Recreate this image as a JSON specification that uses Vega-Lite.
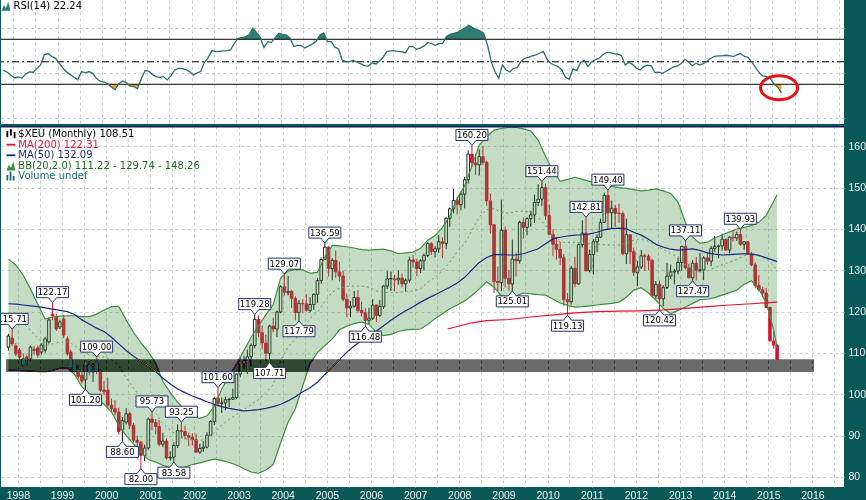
{
"$schema":"https://vega.github.io/schema/vega-lite/v6.json",
"background":"#0b5858",
"padding":0,
"spacing":0,
"config":{"view":{"stroke":null,"fill":"white"},"font":"DejaVu Sans",
"axis":{"gridColor":"#cfcfcf","gridDash":[3,3],"gridWidth":1,"domain":false,"ticks":false,"labelColor":"#f2f2f2","labelFont":"Liberation Sans","labelFontSize":10.5,"title":null}},
"datasets":{
"candles":[
{"d":"1997-10-15","o":111.4,"h":114.6,"l":110.6,"c":114.1},
{"d":"1997-11-15","o":113.6,"h":115.71,"l":111.6,"c":112.2},
{"d":"1997-12-15","o":111.7,"h":112.4,"l":109.2,"c":109.8},
{"d":"1998-01-15","o":110.7,"h":111.2,"l":107.6,"c":109.0},
{"d":"1998-02-15","o":108.6,"h":109.9,"l":106.6,"c":107.2},
{"d":"1998-03-15","o":109.0,"h":109.6,"l":107.0,"c":108.3},
{"d":"1998-04-15","o":108.6,"h":111.8,"l":108.2,"c":111.4},
{"d":"1998-05-15","o":110.9,"h":111.7,"l":109.6,"c":110.6},
{"d":"1998-06-15","o":111.2,"h":111.8,"l":108.8,"c":109.5},
{"d":"1998-07-15","o":110.2,"h":112.3,"l":109.6,"c":111.9},
{"d":"1998-08-15","o":110.7,"h":113.9,"l":110.1,"c":113.4},
{"d":"1998-09-15","o":112.7,"h":118.6,"l":112.2,"c":118.0},
{"d":"1998-10-15","o":119.4,"h":122.17,"l":117.9,"c":119.0},
{"d":"1998-11-15","o":118.7,"h":119.5,"l":115.3,"c":115.8},
{"d":"1998-12-15","o":116.3,"h":118.0,"l":115.8,"c":117.5},
{"d":"1999-01-15","o":118.2,"h":119.2,"l":113.6,"c":114.3},
{"d":"1999-02-15","o":113.4,"h":114.0,"l":109.4,"c":109.8},
{"d":"1999-03-15","o":110.2,"h":110.8,"l":105.9,"c":106.6},
{"d":"1999-04-15","o":107.4,"h":108.3,"l":105.2,"c":105.6},
{"d":"1999-05-15","o":105.9,"h":107.0,"l":103.7,"c":104.3},
{"d":"1999-06-15","o":104.6,"h":105.4,"l":102.6,"c":103.2},
{"d":"1999-07-15","o":103.5,"h":108.0,"l":101.2,"c":107.2},
{"d":"1999-08-15","o":107.0,"h":107.9,"l":104.6,"c":105.4},
{"d":"1999-09-15","o":105.4,"h":107.5,"l":103.0,"c":106.9},
{"d":"1999-10-15","o":107.5,"h":109.0,"l":104.9,"c":105.6},
{"d":"1999-11-15","o":105.6,"h":106.0,"l":100.5,"c":101.0},
{"d":"1999-12-15","o":101.0,"h":103.2,"l":99.8,"c":100.6},
{"d":"2000-01-15","o":101.0,"h":104.0,"l":96.8,"c":97.4},
{"d":"2000-02-15","o":97.4,"h":99.0,"l":95.8,"c":96.5},
{"d":"2000-03-15","o":96.5,"h":98.6,"l":94.9,"c":95.7},
{"d":"2000-04-15","o":95.7,"h":96.8,"l":90.3,"c":91.0},
{"d":"2000-05-15","o":91.4,"h":94.5,"l":88.6,"c":93.6},
{"d":"2000-06-15","o":93.3,"h":96.6,"l":92.7,"c":95.3},
{"d":"2000-07-15","o":95.3,"h":95.8,"l":91.6,"c":92.5},
{"d":"2000-08-15","o":92.5,"h":93.0,"l":88.4,"c":88.9},
{"d":"2000-09-15","o":88.9,"h":90.0,"l":84.4,"c":88.4},
{"d":"2000-10-15","o":88.4,"h":88.7,"l":82.0,"c":85.2},
{"d":"2000-11-15","o":85.2,"h":87.8,"l":83.8,"c":87.0},
{"d":"2000-12-15","o":87.0,"h":94.4,"l":86.6,"c":94.0},
{"d":"2001-01-15","o":94.0,"h":95.73,"l":91.2,"c":93.2},
{"d":"2001-02-15","o":93.2,"h":94.0,"l":90.3,"c":92.2},
{"d":"2001-03-15","o":92.2,"h":93.8,"l":87.4,"c":87.9},
{"d":"2001-04-15","o":87.9,"h":90.7,"l":87.3,"c":88.7},
{"d":"2001-05-15","o":88.7,"h":89.3,"l":84.2,"c":84.6},
{"d":"2001-06-15","o":84.6,"h":86.2,"l":83.9,"c":84.8},
{"d":"2001-07-15","o":84.8,"h":88.4,"l":83.58,"c":87.6},
{"d":"2001-08-15","o":87.6,"h":92.7,"l":87.0,"c":91.2},
{"d":"2001-09-15","o":91.2,"h":93.25,"l":89.3,"c":91.0},
{"d":"2001-10-15","o":91.0,"h":92.4,"l":89.1,"c":90.0},
{"d":"2001-11-15","o":90.0,"h":90.7,"l":87.4,"c":89.6},
{"d":"2001-12-15","o":89.6,"h":90.6,"l":87.6,"c":89.0},
{"d":"2002-01-15","o":89.0,"h":90.5,"l":85.9,"c":86.0},
{"d":"2002-02-15","o":86.0,"h":88.0,"l":85.6,"c":86.9},
{"d":"2002-03-15","o":86.9,"h":88.7,"l":86.1,"c":87.2},
{"d":"2002-04-15","o":87.2,"h":90.8,"l":86.9,"c":90.1},
{"d":"2002-05-15","o":90.1,"h":93.7,"l":89.9,"c":93.4},
{"d":"2002-06-15","o":93.4,"h":99.4,"l":92.6,"c":99.0},
{"d":"2002-07-15","o":99.0,"h":101.6,"l":97.0,"c":97.8},
{"d":"2002-08-15","o":97.8,"h":99.2,"l":95.5,"c":97.9},
{"d":"2002-09-15","o":97.9,"h":99.4,"l":96.2,"c":98.7},
{"d":"2002-10-15","o":98.7,"h":99.2,"l":96.9,"c":98.8},
{"d":"2002-11-15","o":98.8,"h":101.4,"l":98.7,"c":99.2},
{"d":"2002-12-15","o":99.2,"h":105.0,"l":98.8,"c":104.9},
{"d":"2003-01-15","o":104.9,"h":108.8,"l":104.1,"c":107.7},
{"d":"2003-02-15","o":107.7,"h":109.3,"l":106.3,"c":107.9},
{"d":"2003-03-15","o":107.9,"h":110.8,"l":104.9,"c":109.1},
{"d":"2003-04-15","o":109.1,"h":112.3,"l":106.9,"c":111.8},
{"d":"2003-05-15","o":111.8,"h":119.28,"l":111.1,"c":118.1},
{"d":"2003-06-15","o":118.1,"h":119.1,"l":113.9,"c":114.9},
{"d":"2003-07-15","o":114.9,"h":116.6,"l":110.9,"c":112.4},
{"d":"2003-08-15","o":112.4,"h":114.4,"l":108.0,"c":109.9},
{"d":"2003-09-15","o":109.9,"h":116.8,"l":107.71,"c":116.5},
{"d":"2003-10-15","o":116.5,"h":118.5,"l":115.0,"c":115.8},
{"d":"2003-11-15","o":115.8,"h":120.3,"l":113.9,"c":119.9},
{"d":"2003-12-15","o":119.9,"h":126.4,"l":119.6,"c":126.0},
{"d":"2004-01-15","o":126.0,"h":129.07,"l":123.9,"c":124.6},
{"d":"2004-02-15","o":124.6,"h":128.6,"l":123.9,"c":124.9},
{"d":"2004-03-15","o":124.9,"h":125.2,"l":120.9,"c":123.2},
{"d":"2004-04-15","o":123.2,"h":123.7,"l":117.9,"c":119.8},
{"d":"2004-05-15","o":119.8,"h":122.8,"l":117.79,"c":122.0},
{"d":"2004-06-15","o":122.0,"h":123.0,"l":119.6,"c":121.9},
{"d":"2004-07-15","o":121.9,"h":124.3,"l":120.0,"c":120.3},
{"d":"2004-08-15","o":120.3,"h":123.5,"l":119.8,"c":121.7},
{"d":"2004-09-15","o":121.7,"h":124.4,"l":120.4,"c":124.2},
{"d":"2004-10-15","o":124.2,"h":128.1,"l":122.0,"c":127.5},
{"d":"2004-11-15","o":127.5,"h":133.1,"l":126.8,"c":132.6},
{"d":"2004-12-15","o":132.6,"h":136.59,"l":132.5,"c":135.6},
{"d":"2005-01-15","o":135.6,"h":135.8,"l":128.5,"c":130.4},
{"d":"2005-02-15","o":130.4,"h":132.9,"l":127.6,"c":132.4},
{"d":"2005-03-15","o":132.4,"h":134.8,"l":128.2,"c":129.6},
{"d":"2005-04-15","o":129.6,"h":132.1,"l":127.3,"c":128.6},
{"d":"2005-05-15","o":128.6,"h":129.9,"l":122.5,"c":123.0},
{"d":"2005-06-15","o":123.0,"h":124.4,"l":118.7,"c":120.9},
{"d":"2005-07-15","o":120.9,"h":122.6,"l":118.7,"c":121.3},
{"d":"2005-08-15","o":121.3,"h":125.0,"l":121.0,"c":123.4},
{"d":"2005-09-15","o":123.4,"h":125.2,"l":119.9,"c":120.3},
{"d":"2005-10-15","o":120.3,"h":122.4,"l":118.8,"c":119.7},
{"d":"2005-11-15","o":119.7,"h":120.8,"l":116.48,"c":117.9},
{"d":"2005-12-15","o":117.9,"h":120.9,"l":116.9,"c":118.4},
{"d":"2006-01-15","o":118.4,"h":123.0,"l":118.0,"c":121.6},
{"d":"2006-02-15","o":121.6,"h":121.7,"l":117.5,"c":119.1},
{"d":"2006-03-15","o":119.1,"h":122.8,"l":118.7,"c":121.2},
{"d":"2006-04-15","o":121.2,"h":126.4,"l":120.6,"c":126.2},
{"d":"2006-05-15","o":126.2,"h":129.8,"l":125.5,"c":127.9},
{"d":"2006-06-15","o":127.9,"h":129.7,"l":125.0,"c":128.0},
{"d":"2006-07-15","o":127.9,"h":128.9,"l":124.9,"c":127.7},
{"d":"2006-08-15","o":127.7,"h":129.9,"l":126.5,"c":128.1},
{"d":"2006-09-15","o":128.1,"h":129.2,"l":125.9,"c":126.7},
{"d":"2006-10-15","o":126.7,"h":128.0,"l":124.8,"c":127.6},
{"d":"2006-11-15","o":127.6,"h":133.3,"l":127.0,"c":132.5},
{"d":"2006-12-15","o":132.5,"h":133.7,"l":130.6,"c":132.0},
{"d":"2007-01-15","o":132.0,"h":132.8,"l":128.6,"c":130.4},
{"d":"2007-02-15","o":130.4,"h":132.7,"l":129.3,"c":132.3},
{"d":"2007-03-15","o":132.3,"h":134.0,"l":130.0,"c":133.6},
{"d":"2007-04-15","o":133.6,"h":136.8,"l":133.2,"c":136.5},
{"d":"2007-05-15","o":136.5,"h":136.8,"l":133.7,"c":134.5},
{"d":"2007-06-15","o":134.5,"h":135.8,"l":133.1,"c":135.2},
{"d":"2007-07-15","o":135.2,"h":138.5,"l":134.2,"c":136.9},
{"d":"2007-08-15","o":136.9,"h":138.0,"l":132.9,"c":136.5},
{"d":"2007-09-15","o":136.5,"h":142.8,"l":135.2,"c":142.6},
{"d":"2007-10-15","o":142.6,"h":145.2,"l":140.5,"c":144.9},
{"d":"2007-11-15","o":144.9,"h":149.7,"l":143.8,"c":146.9},
{"d":"2007-12-15","o":146.9,"h":147.7,"l":143.5,"c":145.9},
{"d":"2008-01-15","o":145.9,"h":149.0,"l":144.5,"c":148.4},
{"d":"2008-02-15","o":148.4,"h":152.6,"l":145.0,"c":151.9},
{"d":"2008-03-15","o":151.9,"h":159.0,"l":151.0,"c":158.1},
{"d":"2008-04-15","o":158.1,"h":160.2,"l":155.0,"c":156.0},
{"d":"2008-05-15","o":156.0,"h":158.0,"l":153.0,"c":155.5},
{"d":"2008-06-15","o":155.5,"h":159.2,"l":152.9,"c":157.5},
{"d":"2008-07-15","o":157.5,"h":160.0,"l":155.5,"c":156.1},
{"d":"2008-08-15","o":156.1,"h":156.5,"l":145.5,"c":146.8},
{"d":"2008-09-15","o":146.8,"h":148.6,"l":138.9,"c":141.0},
{"d":"2008-10-15","o":141.0,"h":141.2,"l":124.5,"c":127.3},
{"d":"2008-11-15","o":127.3,"h":130.9,"l":124.9,"c":127.0},
{"d":"2008-12-15","o":127.0,"h":147.1,"l":125.0,"c":139.7},
{"d":"2009-01-15","o":139.7,"h":140.6,"l":125.8,"c":128.1},
{"d":"2009-02-15","o":128.1,"h":130.1,"l":125.1,"c":126.7},
{"d":"2009-03-15","o":126.7,"h":137.4,"l":125.01,"c":132.7},
{"d":"2009-04-15","o":132.7,"h":134.2,"l":128.5,"c":132.3},
{"d":"2009-05-15","o":132.3,"h":142.0,"l":131.6,"c":141.6},
{"d":"2009-06-15","o":141.6,"h":142.8,"l":137.6,"c":140.4},
{"d":"2009-07-15","o":140.4,"h":142.8,"l":138.5,"c":142.5},
{"d":"2009-08-15","o":142.5,"h":144.4,"l":140.5,"c":143.4},
{"d":"2009-09-15","o":143.4,"h":148.3,"l":141.5,"c":146.4},
{"d":"2009-10-15","o":146.4,"h":150.8,"l":145.5,"c":147.2},
{"d":"2009-11-15","o":147.2,"h":151.44,"l":145.5,"c":150.0},
{"d":"2009-12-15","o":150.0,"h":151.0,"l":142.2,"c":143.2},
{"d":"2010-01-15","o":143.2,"h":145.9,"l":138.5,"c":138.7},
{"d":"2010-02-15","o":138.7,"h":139.9,"l":133.4,"c":136.3},
{"d":"2010-03-15","o":136.3,"h":138.1,"l":132.6,"c":135.1},
{"d":"2010-04-15","o":135.1,"h":136.9,"l":131.3,"c":133.0},
{"d":"2010-05-15","o":133.0,"h":133.9,"l":121.4,"c":122.9},
{"d":"2010-06-15","o":122.9,"h":124.5,"l":119.13,"c":122.4},
{"d":"2010-07-15","o":122.4,"h":131.1,"l":121.7,"c":130.5},
{"d":"2010-08-15","o":130.5,"h":133.3,"l":125.9,"c":126.7},
{"d":"2010-09-15","o":126.7,"h":136.5,"l":126.5,"c":136.2},
{"d":"2010-10-15","o":136.2,"h":142.1,"l":135.5,"c":139.0},
{"d":"2010-11-15","o":139.0,"h":142.81,"l":129.7,"c":129.9},
{"d":"2010-12-15","o":129.9,"h":135.0,"l":129.5,"c":133.8},
{"d":"2011-01-15","o":133.8,"h":137.6,"l":129.0,"c":136.9},
{"d":"2011-02-15","o":136.9,"h":138.7,"l":134.4,"c":138.0},
{"d":"2011-03-15","o":138.0,"h":142.5,"l":137.8,"c":141.6},
{"d":"2011-04-15","o":141.6,"h":148.8,"l":141.5,"c":148.1},
{"d":"2011-05-15","o":148.1,"h":149.4,"l":139.7,"c":143.9},
{"d":"2011-06-15","o":143.9,"h":146.9,"l":140.2,"c":145.0},
{"d":"2011-07-15","o":145.0,"h":145.8,"l":140.5,"c":143.8},
{"d":"2011-08-15","o":143.8,"h":146.1,"l":141.4,"c":143.7},
{"d":"2011-09-15","o":143.7,"h":144.2,"l":133.6,"c":134.0},
{"d":"2011-10-15","o":134.0,"h":142.5,"l":131.5,"c":138.6},
{"d":"2011-11-15","o":138.6,"h":138.7,"l":131.5,"c":134.5},
{"d":"2011-12-15","o":134.5,"h":135.5,"l":128.6,"c":129.5},
{"d":"2012-01-15","o":129.5,"h":132.3,"l":126.2,"c":130.8},
{"d":"2012-02-15","o":130.8,"h":134.9,"l":130.3,"c":133.5},
{"d":"2012-03-15","o":133.5,"h":134.0,"l":129.8,"c":133.4},
{"d":"2012-04-15","o":133.4,"h":133.9,"l":130.0,"c":132.4},
{"d":"2012-05-15","o":132.4,"h":132.8,"l":123.6,"c":123.8},
{"d":"2012-06-15","o":123.8,"h":127.4,"l":122.9,"c":126.6},
{"d":"2012-07-15","o":126.6,"h":127.5,"l":120.42,"c":123.1},
{"d":"2012-08-15","o":123.1,"h":126.4,"l":121.3,"c":125.8},
{"d":"2012-09-15","o":125.8,"h":131.7,"l":125.5,"c":128.6},
{"d":"2012-10-15","o":128.6,"h":131.4,"l":127.9,"c":129.6},
{"d":"2012-11-15","o":129.6,"h":130.3,"l":126.6,"c":129.8},
{"d":"2012-12-15","o":129.8,"h":133.0,"l":129.0,"c":131.9},
{"d":"2013-01-15","o":131.9,"h":135.9,"l":129.9,"c":135.8},
{"d":"2013-02-15","o":135.8,"h":137.11,"l":130.2,"c":130.6},
{"d":"2013-03-15","o":130.6,"h":131.6,"l":128.0,"c":128.2},
{"d":"2013-04-15","o":128.2,"h":132.5,"l":127.47,"c":131.7},
{"d":"2013-05-15","o":131.7,"h":133.2,"l":127.5,"c":130.0},
{"d":"2013-06-15","o":130.0,"h":134.2,"l":129.5,"c":130.1},
{"d":"2013-07-15","o":130.1,"h":133.4,"l":127.6,"c":133.0},
{"d":"2013-08-15","o":133.0,"h":134.5,"l":131.3,"c":132.2},
{"d":"2013-09-15","o":132.2,"h":135.9,"l":131.0,"c":135.3},
{"d":"2013-10-15","o":135.3,"h":138.3,"l":134.4,"c":135.8},
{"d":"2013-11-15","o":135.8,"h":136.2,"l":132.9,"c":135.9},
{"d":"2013-12-15","o":135.9,"h":138.9,"l":134.8,"c":137.5},
{"d":"2014-01-15","o":137.5,"h":137.7,"l":134.8,"c":134.9},
{"d":"2014-02-15","o":134.9,"h":138.2,"l":134.1,"c":138.0},
{"d":"2014-03-15","o":138.0,"h":139.7,"l":137.0,"c":137.8},
{"d":"2014-04-15","o":137.8,"h":139.4,"l":137.1,"c":138.7},
{"d":"2014-05-15","o":138.7,"h":139.93,"l":135.9,"c":136.3},
{"d":"2014-06-15","o":136.3,"h":137.0,"l":135.0,"c":136.9},
{"d":"2014-07-15","o":136.9,"h":137.0,"l":133.7,"c":133.9},
{"d":"2014-08-15","o":133.9,"h":134.4,"l":131.0,"c":131.3},
{"d":"2014-09-15","o":131.3,"h":131.9,"l":125.7,"c":126.3},
{"d":"2014-10-15","o":126.3,"h":128.9,"l":124.9,"c":125.3},
{"d":"2014-11-15","o":125.3,"h":126.0,"l":123.6,"c":124.5},
{"d":"2014-12-15","o":124.5,"h":125.7,"l":120.9,"c":121.0},
{"d":"2015-01-15","o":121.0,"h":121.2,"l":112.8,"c":112.9},
{"d":"2015-02-15","o":112.9,"h":115.3,"l":111.0,"c":111.9},
{"d":"2015-03-15","o":111.9,"h":112.2,"l":108.5,"c":108.51}
],
"bb":[
{"d":"1997-10-15","up":132.7,"mid":119.3,"lo":105.9,"ma":121.9},
{"d":"1997-12-15","up":131.3,"mid":118.5,"lo":105.8,"ma":121.8},
{"d":"1998-02-15","up":128.8,"mid":117.2,"lo":105.7,"ma":121.6},
{"d":"1998-04-15","up":125.5,"mid":115.5,"lo":105.6,"ma":121.4},
{"d":"1998-06-15","up":121.8,"mid":113.6,"lo":105.5,"ma":121.2},
{"d":"1998-08-15","up":118.2,"mid":111.8,"lo":105.4,"ma":120.9},
{"d":"1998-10-15","up":118.7,"mid":112.2,"lo":105.8,"ma":120.6},
{"d":"1998-12-15","up":118.9,"mid":112.6,"lo":106.3,"ma":120.3},
{"d":"1999-02-15","up":119.0,"mid":112.7,"lo":106.4,"ma":120.0},
{"d":"1999-04-15","up":119.0,"mid":111.9,"lo":104.8,"ma":119.3},
{"d":"1999-06-15","up":118.8,"mid":110.3,"lo":101.8,"ma":118.0},
{"d":"1999-08-15","up":118.8,"mid":109.5,"lo":100.2,"ma":117.0},
{"d":"1999-10-15","up":119.4,"mid":109.2,"lo":99.0,"ma":116.0},
{"d":"1999-12-15","up":120.4,"mid":109.0,"lo":97.6,"ma":115.2},
{"d":"2000-02-15","up":121.2,"mid":108.4,"lo":95.7,"ma":113.8},
{"d":"2000-04-15","up":121.3,"mid":106.9,"lo":92.5,"ma":112.2},
{"d":"2000-06-15","up":118.0,"mid":104.0,"lo":90.0,"ma":110.6},
{"d":"2000-08-15","up":115.0,"mid":101.5,"lo":88.0,"ma":109.2},
{"d":"2000-10-15","up":112.5,"mid":99.2,"lo":86.0,"ma":108.0},
{"d":"2000-12-15","up":110.3,"mid":97.2,"lo":84.2,"ma":106.9},
{"d":"2001-02-15","up":107.5,"mid":95.5,"lo":83.6,"ma":105.5},
{"d":"2001-04-15","up":103.1,"mid":92.9,"lo":82.8,"ma":103.9},
{"d":"2001-06-15","up":100.4,"mid":91.3,"lo":82.3,"ma":102.5},
{"d":"2001-08-15","up":98.1,"mid":90.0,"lo":81.9,"ma":101.3},
{"d":"2001-10-15","up":96.2,"mid":89.3,"lo":82.4,"ma":100.4},
{"d":"2001-12-15","up":94.8,"mid":88.9,"lo":83.0,"ma":99.6},
{"d":"2002-02-15","up":94.2,"mid":88.8,"lo":83.4,"ma":98.9},
{"d":"2002-04-15","up":94.8,"mid":89.3,"lo":83.9,"ma":98.2},
{"d":"2002-06-15","up":97.1,"mid":90.7,"lo":84.3,"ma":97.6},
{"d":"2002-08-15","up":101.3,"mid":92.6,"lo":84.0,"ma":97.0},
{"d":"2002-10-15","up":104.4,"mid":93.9,"lo":83.5,"ma":96.6},
{"d":"2002-12-15","up":107.3,"mid":95.1,"lo":82.9,"ma":96.3},
{"d":"2003-02-15","up":110.6,"mid":96.3,"lo":82.0,"ma":96.0},
{"d":"2003-04-15","up":113.8,"mid":97.5,"lo":81.2,"ma":96.1},
{"d":"2003-06-15","up":116.6,"mid":98.7,"lo":80.9,"ma":96.3},
{"d":"2003-08-15","up":119.2,"mid":100.4,"lo":81.7,"ma":96.6},
{"d":"2003-10-15","up":121.7,"mid":102.3,"lo":83.0,"ma":97.0},
{"d":"2003-12-15","up":128.1,"mid":108.1,"lo":88.2,"ma":97.6},
{"d":"2004-02-15","up":129.8,"mid":111.5,"lo":93.3,"ma":98.4},
{"d":"2004-04-15","up":130.2,"mid":113.3,"lo":96.5,"ma":99.4},
{"d":"2004-06-15","up":130.1,"mid":116.0,"lo":102.0,"ma":100.6},
{"d":"2004-08-15","up":129.3,"mid":118.4,"lo":107.5,"ma":101.6},
{"d":"2004-10-15","up":129.5,"mid":119.8,"lo":110.1,"ma":102.9},
{"d":"2004-12-15","up":133.2,"mid":122.5,"lo":111.8,"ma":104.8},
{"d":"2005-02-15","up":136.0,"mid":124.7,"lo":113.4,"ma":106.6},
{"d":"2005-04-15","up":135.9,"mid":125.7,"lo":115.6,"ma":108.4},
{"d":"2005-06-15","up":135.7,"mid":126.1,"lo":116.5,"ma":110.2},
{"d":"2005-08-15","up":135.4,"mid":126.2,"lo":117.1,"ma":111.7},
{"d":"2005-10-15","up":135.0,"mid":126.2,"lo":117.5,"ma":113.0},
{"d":"2005-12-15","up":134.9,"mid":125.9,"lo":116.9,"ma":114.3},
{"d":"2006-02-15","up":135.0,"mid":125.0,"lo":115.0,"ma":115.3},
{"d":"2006-04-15","up":135.1,"mid":124.6,"lo":114.2,"ma":116.6},
{"d":"2006-06-15","up":134.7,"mid":124.6,"lo":114.5,"ma":117.9},
{"d":"2006-08-15","up":134.0,"mid":124.6,"lo":115.2,"ma":119.1},
{"d":"2006-10-15","up":134.2,"mid":124.9,"lo":115.6,"ma":120.2},
{"d":"2006-12-15","up":134.4,"mid":125.0,"lo":115.7,"ma":121.2},
{"d":"2007-02-15","up":135.3,"mid":125.5,"lo":115.8,"ma":122.3},
{"d":"2007-04-15","up":137.3,"mid":127.1,"lo":116.9,"ma":123.2},
{"d":"2007-06-15","up":138.4,"mid":128.3,"lo":118.3,"ma":124.1},
{"d":"2007-08-15","up":140.4,"mid":130.0,"lo":119.5,"ma":125.0},
{"d":"2007-10-15","up":143.1,"mid":131.9,"lo":120.7,"ma":125.9},
{"d":"2007-12-15","up":147.4,"mid":134.5,"lo":121.6,"ma":126.9},
{"d":"2008-02-15","up":150.5,"mid":136.5,"lo":122.6,"ma":128.3},
{"d":"2008-04-15","up":155.3,"mid":139.6,"lo":123.9,"ma":130.1},
{"d":"2008-06-15","up":160.3,"mid":142.9,"lo":125.5,"ma":131.9},
{"d":"2008-08-15","up":162.3,"mid":144.7,"lo":127.2,"ma":133.1},
{"d":"2008-10-15","up":163.9,"mid":144.9,"lo":125.9,"ma":133.8},
{"d":"2008-12-15","up":164.3,"mid":144.0,"lo":123.8,"ma":133.8},
{"d":"2009-02-15","up":164.6,"mid":143.8,"lo":123.1,"ma":133.7},
{"d":"2009-04-15","up":164.6,"mid":144.2,"lo":123.8,"ma":133.7},
{"d":"2009-06-15","up":164.2,"mid":144.3,"lo":124.5,"ma":134.0},
{"d":"2009-08-15","up":163.7,"mid":144.0,"lo":124.3,"ma":134.6},
{"d":"2009-10-15","up":161.5,"mid":142.8,"lo":124.1,"ma":135.2},
{"d":"2009-12-15","up":157.6,"mid":140.8,"lo":124.0,"ma":136.4},
{"d":"2010-02-15","up":154.1,"mid":138.5,"lo":123.0,"ma":137.6},
{"d":"2010-04-15","up":151.5,"mid":136.8,"lo":122.1,"ma":138.0},
{"d":"2010-06-15","up":152.0,"mid":136.7,"lo":121.5,"ma":138.3},
{"d":"2010-08-15","up":152.5,"mid":136.8,"lo":121.1,"ma":138.5},
{"d":"2010-10-15","up":152.0,"mid":136.6,"lo":121.2,"ma":138.6},
{"d":"2010-12-15","up":151.5,"mid":136.4,"lo":121.4,"ma":138.8},
{"d":"2011-02-15","up":151.0,"mid":136.3,"lo":121.6,"ma":139.2},
{"d":"2011-04-15","up":150.6,"mid":136.2,"lo":121.8,"ma":139.8},
{"d":"2011-06-15","up":150.3,"mid":136.1,"lo":122.0,"ma":140.1},
{"d":"2011-08-15","up":150.0,"mid":136.1,"lo":122.3,"ma":140.2},
{"d":"2011-10-15","up":149.8,"mid":136.6,"lo":123.5,"ma":140.0},
{"d":"2011-12-15","up":149.5,"mid":137.3,"lo":125.2,"ma":139.2},
{"d":"2012-02-15","up":149.2,"mid":137.5,"lo":125.8,"ma":138.5},
{"d":"2012-04-15","up":149.4,"mid":137.0,"lo":124.5,"ma":137.5},
{"d":"2012-06-15","up":149.7,"mid":136.2,"lo":122.8,"ma":136.3},
{"d":"2012-08-15","up":149.2,"mid":135.0,"lo":120.8,"ma":135.6},
{"d":"2012-10-15","up":148.6,"mid":134.0,"lo":119.5,"ma":135.1},
{"d":"2012-12-15","up":146.5,"mid":133.4,"lo":120.3,"ma":134.9},
{"d":"2013-02-15","up":141.5,"mid":131.3,"lo":121.1,"ma":135.0},
{"d":"2013-04-15","up":138.0,"mid":130.0,"lo":122.0,"ma":135.2},
{"d":"2013-06-15","up":136.5,"mid":129.7,"lo":122.9,"ma":134.8},
{"d":"2013-08-15","up":136.8,"mid":129.9,"lo":123.0,"ma":134.2},
{"d":"2013-10-15","up":137.8,"mid":130.6,"lo":123.4,"ma":133.9},
{"d":"2013-12-15","up":138.6,"mid":131.3,"lo":124.0,"ma":133.7},
{"d":"2014-02-15","up":139.3,"mid":132.0,"lo":124.6,"ma":133.8},
{"d":"2014-04-15","up":140.0,"mid":132.6,"lo":125.2,"ma":133.9},
{"d":"2014-06-15","up":140.4,"mid":133.5,"lo":126.6,"ma":134.0},
{"d":"2014-08-15","up":140.8,"mid":134.2,"lo":127.5,"ma":133.9},
{"d":"2014-10-15","up":141.6,"mid":133.5,"lo":125.4,"ma":133.6},
{"d":"2014-12-15","up":143.3,"mid":132.7,"lo":122.1,"ma":133.0},
{"d":"2015-02-15","up":146.7,"mid":131.1,"lo":115.5,"ma":132.4},
{"d":"2015-03-15","up":148.26,"mid":129.74,"lo":111.22,"ma":132.09}
],
"ma200":[
{"d":"2007-09-27","v":115.8},{"d":"2007-12-15","v":116.4},{"d":"2008-04-15","v":117.3},{"d":"2008-08-15","v":117.8},
{"d":"2009-02-15","v":118.1},{"d":"2009-08-15","v":118.7},{"d":"2010-02-15","v":119.2},{"d":"2010-08-15","v":119.7},
{"d":"2011-02-15","v":120.0},{"d":"2011-08-15","v":120.1},{"d":"2012-02-15","v":120.2},{"d":"2012-08-15","v":120.4},
{"d":"2013-02-15","v":120.8},{"d":"2013-08-15","v":121.2},{"d":"2014-02-15","v":121.6},{"d":"2014-08-15","v":121.9},
{"d":"2015-03-15","v":122.31}
],
"hi":[
{"d":"1997-11-15","v":115.71},{"d":"1998-10-15","v":122.17},{"d":"1999-10-15","v":109.0},{"d":"2001-01-15","v":95.73},
{"d":"2001-09-15","v":93.25},{"d":"2002-07-15","v":101.6},{"d":"2003-05-15","v":119.28},{"d":"2004-01-15","v":129.07},
{"d":"2004-12-15","v":136.59},{"d":"2008-04-15","v":160.2},{"d":"2009-11-15","v":151.44},{"d":"2010-11-15","v":142.81},
{"d":"2011-05-15","v":149.4},{"d":"2013-02-15","v":137.11},{"d":"2014-05-15","v":139.93}
],
"lo":[
{"d":"1999-07-15","v":101.2},{"d":"2000-05-15","v":88.6},{"d":"2000-10-15","v":82.0},{"d":"2001-07-15","v":83.58},
{"d":"2003-09-15","v":107.71},{"d":"2004-05-15","v":117.79},{"d":"2005-11-15","v":116.48},{"d":"2009-03-15","v":125.01},
{"d":"2010-06-15","v":119.13},{"d":"2012-07-15","v":120.42},{"d":"2013-04-15","v":127.47}
],
"rsi":[
{"d":"1997-10-15","v":42.4},{"d":"1997-11-15","v":40.7},{"d":"1997-12-15","v":38.0},
{"d":"1998-01-15","v":35.6},{"d":"1998-02-15","v":36.5},{"d":"1998-03-15","v":35.3},{"d":"1998-04-15","v":39.2},{"d":"1998-05-15","v":41.0},{"d":"1998-06-15","v":40.7},{"d":"1998-07-15","v":43.9},{"d":"1998-08-15","v":47.2},{"d":"1998-09-15","v":56.4},{"d":"1998-10-15","v":57.3},{"d":"1998-11-15","v":54.6},{"d":"1998-12-15","v":53.1},
{"d":"1999-01-15","v":48.7},{"d":"1999-02-15","v":44.2},{"d":"1999-03-15","v":41.0},{"d":"1999-04-15","v":38.6},{"d":"1999-05-15","v":36.2},{"d":"1999-06-15","v":33.9},{"d":"1999-07-15","v":41.3},{"d":"1999-08-15","v":40.1},{"d":"1999-09-15","v":41.3},{"d":"1999-10-15","v":39.5},{"d":"1999-11-15","v":35.0},{"d":"1999-12-15","v":32.7},
{"d":"2000-01-15","v":32.0},{"d":"2000-02-15","v":30.5},{"d":"2000-03-15","v":27.5},{"d":"2000-04-15","v":25.2},{"d":"2000-05-15","v":30.5},{"d":"2000-06-15","v":33.0},{"d":"2000-07-15","v":31.5},{"d":"2000-08-15","v":28.3},{"d":"2000-09-15","v":28.0},{"d":"2000-10-15","v":26.0},{"d":"2000-11-15","v":35.0},{"d":"2000-12-15","v":42.1},
{"d":"2001-01-15","v":41.6},{"d":"2001-02-15","v":38.6},{"d":"2001-03-15","v":36.8},{"d":"2001-04-15","v":36.2},{"d":"2001-05-15","v":36.8},{"d":"2001-06-15","v":33.9},{"d":"2001-07-15","v":37.4},{"d":"2001-08-15","v":42.7},{"d":"2001-09-15","v":44.2},{"d":"2001-10-15","v":43.9},{"d":"2001-11-15","v":43.0},{"d":"2001-12-15","v":41.3},
{"d":"2002-01-15","v":38.3},{"d":"2002-02-15","v":40.1},{"d":"2002-03-15","v":41.3},{"d":"2002-04-15","v":49.3},{"d":"2002-05-15","v":53.7},{"d":"2002-06-15","v":59.9},{"d":"2002-07-15","v":59.0},{"d":"2002-08-15","v":59.3},{"d":"2002-09-15","v":59.6},{"d":"2002-10-15","v":59.9},{"d":"2002-11-15","v":60.5},{"d":"2002-12-15","v":66.4},
{"d":"2003-01-15","v":70.9},{"d":"2003-02-15","v":71.5},{"d":"2003-03-15","v":72.1},{"d":"2003-04-15","v":73.9},{"d":"2003-05-15","v":79.8},{"d":"2003-06-15","v":76.2},{"d":"2003-07-15","v":71.8},{"d":"2003-08-15","v":62.6},{"d":"2003-09-15","v":67.9},{"d":"2003-10-15","v":67.3},{"d":"2003-11-15","v":71.5},{"d":"2003-12-15","v":75.3},
{"d":"2004-01-15","v":74.1},{"d":"2004-02-15","v":73.6},{"d":"2004-03-15","v":70.9},{"d":"2004-04-15","v":63.5},{"d":"2004-05-15","v":64.5},{"d":"2004-06-15","v":64.4},{"d":"2004-07-15","v":62.3},{"d":"2004-08-15","v":64.1},{"d":"2004-09-15","v":65.9},{"d":"2004-10-15","v":68.2},{"d":"2004-11-15","v":73.9},{"d":"2004-12-15","v":75.6},
{"d":"2005-01-15","v":67.9},{"d":"2005-02-15","v":67.9},{"d":"2005-03-15","v":63.2},{"d":"2005-04-15","v":61.4},{"d":"2005-05-15","v":51.6},{"d":"2005-06-15","v":50.1},{"d":"2005-07-15","v":50.1},{"d":"2005-08-15","v":51.3},{"d":"2005-09-15","v":49.6},{"d":"2005-10-15","v":48.1},{"d":"2005-11-15","v":46.6},{"d":"2005-12-15","v":46.0},
{"d":"2006-01-15","v":49.0},{"d":"2006-02-15","v":48.1},{"d":"2006-03-15","v":50.7},{"d":"2006-04-15","v":54.0},{"d":"2006-05-15","v":59.0},{"d":"2006-06-15","v":59.6},{"d":"2006-07-15","v":59.6},{"d":"2006-08-15","v":59.3},{"d":"2006-09-15","v":58.7},{"d":"2006-10-15","v":58.1},{"d":"2006-11-15","v":63.5},{"d":"2006-12-15","v":63.5},
{"d":"2007-01-15","v":61.1},{"d":"2007-02-15","v":62.3},{"d":"2007-03-15","v":64.1},{"d":"2007-04-15","v":67.0},{"d":"2007-05-15","v":66.4},{"d":"2007-06-15","v":64.7},{"d":"2007-07-15","v":66.1},{"d":"2007-08-15","v":66.4},{"d":"2007-09-15","v":72.4},{"d":"2007-10-15","v":74.4},{"d":"2007-11-15","v":75.3},{"d":"2007-12-15","v":76.2},
{"d":"2008-01-15","v":78.3},{"d":"2008-02-15","v":80.1},{"d":"2008-03-15","v":82.4},{"d":"2008-04-15","v":80.4},{"d":"2008-05-15","v":78.9},{"d":"2008-06-15","v":77.4},{"d":"2008-07-15","v":75.3},{"d":"2008-08-15","v":65.0},{"d":"2008-09-15","v":50.1},{"d":"2008-10-15","v":41.3},{"d":"2008-11-15","v":35.3},{"d":"2008-12-15","v":47.2},
{"d":"2009-01-15","v":42.7},{"d":"2009-02-15","v":41.0},{"d":"2009-03-15","v":44.2},{"d":"2009-04-15","v":44.8},{"d":"2009-05-15","v":50.1},{"d":"2009-06-15","v":53.1},{"d":"2009-07-15","v":54.0},{"d":"2009-08-15","v":55.2},{"d":"2009-09-15","v":56.1},{"d":"2009-10-15","v":57.6},{"d":"2009-11-15","v":59.3},{"d":"2009-12-15","v":52.2},
{"d":"2010-01-15","v":48.7},{"d":"2010-02-15","v":46.9},{"d":"2010-03-15","v":45.7},{"d":"2010-04-15","v":42.7},{"d":"2010-05-15","v":36.2},{"d":"2010-06-15","v":34.4},{"d":"2010-07-15","v":43.6},{"d":"2010-08-15","v":42.1},{"d":"2010-09-15","v":49.3},{"d":"2010-10-15","v":51.3},{"d":"2010-11-15","v":45.7},{"d":"2010-12-15","v":50.1},
{"d":"2011-01-15","v":51.9},{"d":"2011-02-15","v":53.1},{"d":"2011-03-15","v":56.1},{"d":"2011-04-15","v":58.4},{"d":"2011-05-15","v":58.1},{"d":"2011-06-15","v":57.3},{"d":"2011-07-15","v":56.7},{"d":"2011-08-15","v":55.5},{"d":"2011-09-15","v":47.2},{"d":"2011-10-15","v":49.6},{"d":"2011-11-15","v":47.5},{"d":"2011-12-15","v":44.2},
{"d":"2012-01-15","v":42.7},{"d":"2012-02-15","v":46.0},{"d":"2012-03-15","v":46.9},{"d":"2012-04-15","v":46.3},{"d":"2012-05-15","v":40.4},{"d":"2012-06-15","v":40.7},{"d":"2012-07-15","v":39.8},{"d":"2012-08-15","v":41.6},{"d":"2012-09-15","v":43.6},{"d":"2012-10-15","v":45.4},{"d":"2012-11-15","v":46.3},{"d":"2012-12-15","v":48.4},
{"d":"2013-01-15","v":52.2},{"d":"2013-02-15","v":49.9},{"d":"2013-03-15","v":46.3},{"d":"2013-04-15","v":48.7},{"d":"2013-05-15","v":47.2},{"d":"2013-06-15","v":48.4},{"d":"2013-07-15","v":50.7},{"d":"2013-08-15","v":53.1},{"d":"2013-09-15","v":54.9},{"d":"2013-10-15","v":55.2},{"d":"2013-11-15","v":55.2},{"d":"2013-12-15","v":55.8},
{"d":"2014-01-15","v":55.5},{"d":"2014-02-15","v":54.6},{"d":"2014-03-15","v":56.1},{"d":"2014-04-15","v":57.3},{"d":"2014-05-15","v":54.9},{"d":"2014-06-15","v":54.0},{"d":"2014-07-15","v":50.1},{"d":"2014-08-15","v":45.1},{"d":"2014-09-15","v":40.4},{"d":"2014-10-15","v":37.4},{"d":"2014-11-15","v":36.8},{"d":"2014-12-15","v":35.0},
{"d":"2015-01-15","v":30.0},{"d":"2015-02-15","v":27.3},{"d":"2015-03-15","v":22.24}
],
"ob":[
{"d":"2002-12-24","v":70,"g":1},{"d":"2003-01-15","v":70.9,"g":1},{"d":"2003-02-15","v":71.5,"g":1},{"d":"2003-03-15","v":72.1,"g":1},{"d":"2003-04-15","v":73.9,"g":1},{"d":"2003-05-15","v":79.8,"g":1},{"d":"2003-06-15","v":76.2,"g":1},{"d":"2003-07-15","v":71.8,"g":1},{"d":"2003-07-21","v":70,"g":1},
{"d":"2003-11-05","v":70,"g":2},{"d":"2003-11-15","v":71.5,"g":2},{"d":"2003-12-15","v":75.3,"g":2},{"d":"2004-01-15","v":74.1,"g":2},{"d":"2004-02-15","v":73.6,"g":2},{"d":"2004-03-15","v":70.9,"g":2},{"d":"2004-03-18","v":70,"g":2},
{"d":"2004-10-25","v":70,"g":3},{"d":"2004-11-15","v":73.9,"g":3},{"d":"2004-12-15","v":75.6,"g":3},{"d":"2005-01-08","v":70,"g":3},
{"d":"2007-09-02","v":70,"g":4},{"d":"2007-09-15","v":72.4,"g":4},{"d":"2007-10-15","v":74.4,"g":4},{"d":"2007-11-15","v":75.3,"g":4},{"d":"2007-12-15","v":76.2,"g":4},{"d":"2008-01-15","v":78.3,"g":4},{"d":"2008-02-15","v":80.1,"g":4},{"d":"2008-03-15","v":82.4,"g":4},{"d":"2008-04-15","v":80.4,"g":4},{"d":"2008-05-15","v":78.9,"g":4},{"d":"2008-06-15","v":77.4,"g":4},{"d":"2008-07-15","v":75.3,"g":4},{"d":"2008-08-01","v":70,"g":4}
],
"os":[
{"d":"2000-02-20","v":30,"g":1},{"d":"2000-03-15","v":27.5,"g":1},{"d":"2000-04-15","v":25.2,"g":1},{"d":"2000-05-12","v":30,"g":1},
{"d":"2000-07-29","v":30,"g":2},{"d":"2000-08-15","v":28.3,"g":2},{"d":"2000-09-15","v":28.0,"g":2},{"d":"2000-10-15","v":26.0,"g":2},{"d":"2000-10-28","v":30,"g":2},
{"d":"2015-01-15","v":30,"g":3},{"d":"2015-02-15","v":27.3,"g":3},{"d":"2015-03-15","v":22.24,"g":3}
]
},
"vconcat":[
{
"width":843,"height":124,
"layer":[
{"data":{"name":"ob"},"mark":{"type":"area","color":"#2e7d72","opacity":1},
 "encoding":{
  "x":{"field":"d","type":"temporal","title":null,"scale":{"domain":[{"utc":true,"year":1997,"month":9,"date":25},{"utc":true,"year":2016,"month":8,"date":8}]},
       "axis":{"labels":false,"grid":true,"tickCount":{"interval":"month","step":6},"minExtent":0,"maxExtent":0,"offset":0}},
  "y":{"field":"v","type":"quantitative","title":null,"scale":{"domain":[-5.3,104.9],"nice":false,"zero":false},
       "axis":{"orient":"right","values":[0,10,20,30,40,50,60,70,80,90,100],"labelExpr":"datum.value % 20 == 10 ? datum.label : ''","labelPadding":4,"labelAlign":"left","minExtent":23,"maxExtent":23}},
  "y2":{"datum":70},
  "detail":{"field":"g"}}},
{"data":{"name":"os"},"mark":{"type":"area","color":"#f5a21e","opacity":1},
 "encoding":{"x":{"field":"d","type":"temporal"},"y":{"field":"v","type":"quantitative"},"y2":{"datum":30},"detail":{"field":"g"}}},
{"data":{"values":[{"v":30},{"v":70}]},"mark":{"type":"rule","color":"#000000","strokeWidth":1},
 "encoding":{"y":{"field":"v","type":"quantitative"}}},
{"data":{"values":[{"v":50}]},"mark":{"type":"rule","color":"#000000","strokeWidth":1,"strokeDash":[7,3,2,3]},
 "encoding":{"y":{"field":"v","type":"quantitative"}}},
{"data":{"name":"rsi"},"mark":{"type":"line","color":"#2a6f6c","strokeWidth":1.3},
 "encoding":{"x":{"field":"d","type":"temporal"},"y":{"field":"v","type":"quantitative"}}},
{"data":{"values":[{"d":"2015-02-24","v":27}]},"mark":{"type":"point","shape":"M-1,0 A1,0.65 0 1,1 1,0 A1,0.65 0 1,1 -1,0 Z","size":1369,"filled":false,"stroke":"#e8101a","strokeWidth":3,"opacity":1},
 "encoding":{"x":{"field":"d","type":"temporal"},"y":{"field":"v","type":"quantitative"}}},
{"data":{"values":[{}]},"mark":{"type":"point","shape":"M-1,1 L-0.5,-0.2 L0,0.4 L0.5,-1 L1,1 Z","size":81,"filled":true,"color":"#2e7d72","opacity":1},
 "encoding":{"x":{"datum":{"utc":true,"year":1997,"month":11,"date":5},"type":"temporal"},"y":{"datum":99.4}}},
{"data":{"values":[{}]},"mark":{"type":"text","text":"RSI(14) 22.24","align":"left","baseline":"middle","fontSize":10,"color":"#000000"},
 "encoding":{"x":{"datum":{"utc":true,"year":1998,"month":1,"date":5},"type":"temporal"},"y":{"datum":99.4}}}
]
},
{
"width":843,"height":361,
"layer":[
{"data":{"name":"candles"},"mark":{"type":"rule","strokeWidth":1},
 "encoding":{
  "x":{"field":"d","type":"temporal","title":null,"scale":{"domain":[{"utc":true,"year":1997,"month":9,"date":25},{"utc":true,"year":2016,"month":8,"date":8}]},
       "axis":{"orient":"bottom","grid":true,"tickCount":{"interval":"month","step":6},"labelExpr":"month(datum.value) == 0 ? timeFormat(datum.value, '%Y') : ''","labelPadding":3,"labelBaseline":"top","labelOverlap":false,"labelFlush":false,"minExtent":15,"maxExtent":15}},
  "y":{"field":"l","type":"quantitative","title":null,"scale":{"domain":[77.57,164.91],"nice":false,"zero":false},
       "axis":{"orient":"right","values":[80,85,90,95,100,105,110,115,120,125,130,135,140,145,150,155,160],"labelPadding":4,"labelAlign":"left","minExtent":23,"maxExtent":23}},
  "y2":{"field":"h"},
  "color":{"condition":{"test":"datum.c >= datum.o","value":"#111111"},"value":"#dd1133"}}},
{"data":{"name":"candles"},"mark":{"type":"bar","width":2.6,"strokeWidth":0.9},
 "encoding":{"x":{"field":"d","type":"temporal"},"y":{"field":"o","type":"quantitative"},"y2":{"field":"c"},
  "fill":{"condition":{"test":"datum.c >= datum.o","value":"#ffffff"},"value":"#dd1133"},
  "stroke":{"condition":{"test":"datum.c >= datum.o","value":"#111111"},"value":"#dd1133"}}},
{"data":{"name":"bb"},"mark":{"type":"area","color":"#3c8c3c","opacity":0.3},
 "encoding":{"x":{"field":"d","type":"temporal"},"y":{"field":"up","type":"quantitative"},"y2":{"field":"lo"}}},
{"data":{"name":"bb"},"mark":{"type":"line","color":"#3f8f3f","strokeWidth":1.2},
 "encoding":{"x":{"field":"d","type":"temporal"},"y":{"field":"up","type":"quantitative"}}},
{"data":{"name":"bb"},"mark":{"type":"line","color":"#3f8f3f","strokeWidth":1.2},
 "encoding":{"x":{"field":"d","type":"temporal"},"y":{"field":"lo","type":"quantitative"}}},
{"data":{"name":"bb"},"mark":{"type":"line","color":"#5fa55f","strokeWidth":1,"strokeDash":[2,3]},
 "encoding":{"x":{"field":"d","type":"temporal"},"y":{"field":"mid","type":"quantitative"}}},
{"data":{"name":"bb"},"mark":{"type":"line","color":"#1c2a85","strokeWidth":1.2},
 "encoding":{"x":{"field":"d","type":"temporal"},"y":{"field":"ma","type":"quantitative"}}},
{"data":{"name":"ma200"},"mark":{"type":"line","color":"#e8103a","strokeWidth":1.2},
 "encoding":{"x":{"field":"d","type":"temporal"},"y":{"field":"v","type":"quantitative"}}},
{"data":{"values":[{"v":164.75}]},"mark":{"type":"rule","color":"#1b1f5e","strokeWidth":1.5},
 "encoding":{"y":{"field":"v","type":"quantitative"}}},
{"data":{"values":[{}]},"mark":{"type":"rect","color":"#949494","blend":"difference","opacity":1},
 "encoding":{"x":{"datum":{"utc":true,"year":1997,"month":9,"date":25},"type":"temporal"},"x2":{"datum":{"utc":true,"year":2016,"month":1,"date":15}},"y":{"datum":108.5},"y2":{"datum":105.4}}},
{"data":{"name":"hi"},"mark":{"type":"point","shape":"M0,0 L-0.25,-0.31 L-1,-0.31 L-1,-1.0 L1,-1.0 L1,-0.31 L0.25,-0.31 Z","size":1024,"filled":true,"fill":"#ffffff","stroke":"#26336a","strokeWidth":1,"opacity":1,"clip":true},
 "encoding":{"x":{"field":"d","type":"temporal"},"y":{"field":"v","type":"quantitative"}}},
{"data":{"name":"hi"},"mark":{"type":"text","dy":-10.5,"baseline":"middle","align":"center","fontSize":8.5,"color":"#000000","clip":true},
 "encoding":{"x":{"field":"d","type":"temporal"},"y":{"field":"v","type":"quantitative"},"text":{"field":"v","type":"quantitative","format":".2f"}}},
{"data":{"name":"lo"},"mark":{"type":"point","shape":"M0,0 L-0.25,0.31 L-1,0.31 L-1,1.0 L1,1.0 L1,0.31 L0.25,0.31 Z","size":1024,"filled":true,"fill":"#ffffff","stroke":"#26336a","strokeWidth":1,"opacity":1,"clip":true},
 "encoding":{"x":{"field":"d","type":"temporal"},"y":{"field":"v","type":"quantitative"}}},
{"data":{"name":"lo"},"mark":{"type":"text","dy":10.5,"baseline":"middle","align":"center","fontSize":8.5,"color":"#000000","clip":true},
 "encoding":{"x":{"field":"d","type":"temporal"},"y":{"field":"v","type":"quantitative"},"text":{"field":"v","type":"quantitative","format":".2f"}}},
{"data":{"values":[{}]},"mark":{"type":"point","shape":"M-1,-0.6 L-0.6,-0.6 L-0.6,0.8 L-1,0.8 Z M-0.2,-1 L0.2,-1 L0.2,0.4 L-0.2,0.4 Z M0.6,-0.4 L1,-0.4 L1,1 L0.6,1 Z","size":81,"filled":true,"color":"#000000","opacity":1},
 "encoding":{"x":{"datum":{"utc":true,"year":1997,"month":11,"date":5},"type":"temporal"},"y":{"datum":163.05}}},
{"data":{"values":[{}]},"mark":{"type":"text","text":"$XEU (Monthly) 108.51","align":"left","baseline":"middle","fontSize":10,"color":"#000000"},
 "encoding":{"x":{"datum":{"utc":true,"year":1998,"month":1,"date":5},"type":"temporal"},"y":{"datum":163.05}}},
{"data":{"values":[{}]},"mark":{"type":"point","shape":"M-1,-0.2 L1,-0.2 L1,0.2 L-1,0.2 Z","size":81,"filled":true,"color":"#e8103a","opacity":1},
 "encoding":{"x":{"datum":{"utc":true,"year":1997,"month":11,"date":5},"type":"temporal"},"y":{"datum":160.39}}},
{"data":{"values":[{}]},"mark":{"type":"text","text":"MA(200) 122.31","align":"left","baseline":"middle","fontSize":10,"color":"#e8103a"},
 "encoding":{"x":{"datum":{"utc":true,"year":1998,"month":1,"date":5},"type":"temporal"},"y":{"datum":160.39}}},
{"data":{"values":[{}]},"mark":{"type":"point","shape":"M-1,-0.2 L1,-0.2 L1,0.2 L-1,0.2 Z","size":81,"filled":true,"color":"#1c2a85","opacity":1},
 "encoding":{"x":{"datum":{"utc":true,"year":1997,"month":11,"date":5},"type":"temporal"},"y":{"datum":157.82}}},
{"data":{"values":[{}]},"mark":{"type":"text","text":"MA(50) 132.09","align":"left","baseline":"middle","fontSize":10,"color":"#1c2a85"},
 "encoding":{"x":{"datum":{"utc":true,"year":1998,"month":1,"date":5},"type":"temporal"},"y":{"datum":157.82}}},
{"data":{"values":[{}]},"mark":{"type":"point","shape":"M-1,1 L-0.5,-0.2 L0,0.4 L0.5,-1 L1,1 Z","size":81,"filled":true,"color":"#3f8f3f","opacity":1},
 "encoding":{"x":{"datum":{"utc":true,"year":1997,"month":11,"date":5},"type":"temporal"},"y":{"datum":155.23}}},
{"data":{"values":[{}]},"mark":{"type":"text","text":"BB(20,2.0) 111.22 - 129.74 - 148.26","align":"left","baseline":"middle","fontSize":10,"color":"#1f6b1f"},
 "encoding":{"x":{"datum":{"utc":true,"year":1998,"month":1,"date":5},"type":"temporal"},"y":{"datum":155.23}}},
{"data":{"values":[{}]},"mark":{"type":"point","shape":"M-1,1 L-1,-0.2 L-0.6,-0.2 L-0.6,1 Z M-0.3,1 L-0.3,-1 L0.1,-1 L0.1,1 Z M0.4,1 L0.4,0 L0.8,0 L0.8,1 Z","size":81,"filled":true,"color":"#1e6e6e","opacity":1},
 "encoding":{"x":{"datum":{"utc":true,"year":1997,"month":11,"date":5},"type":"temporal"},"y":{"datum":152.81}}},
{"data":{"values":[{}]},"mark":{"type":"text","text":"Volume undef","align":"left","baseline":"middle","fontSize":10,"color":"#1e6e6e"},
 "encoding":{"x":{"datum":{"utc":true,"year":1998,"month":1,"date":5},"type":"temporal"},"y":{"datum":152.81}}}
]
}
]
}
